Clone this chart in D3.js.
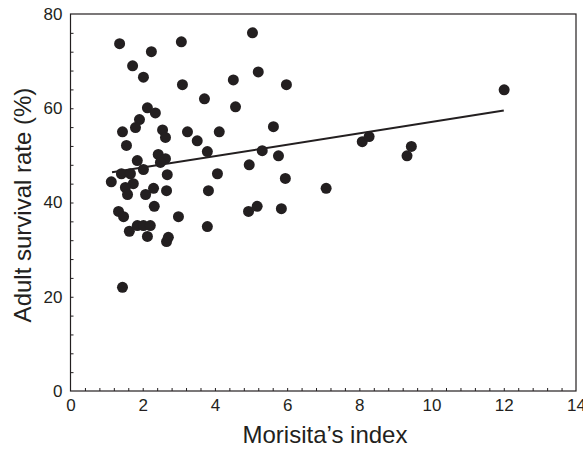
<!DOCTYPE html>
<html>
<head>
<meta charset="utf-8">
<script src="https://cdn.jsdelivr.net/npm/d3@7"></script>
<style>
  body { margin: 0; background: #fff; }
  text { font-family: "Liberation Sans", Arial, Helvetica, sans-serif; fill: #231f20; }
</style>
</head>
<body>
<div id="container"></div>
<script>
// Morisita's index (x) for each population
var morisita = [1.36, 2.24, 3.07, 5.04, 1.72, 2.02, 2.13, 2.35, 1.91, 1.80,
    1.44, 2.55, 2.63, 1.55, 3.10, 3.71, 3.24, 3.51, 3.79, 4.12,
    4.51, 4.57, 5.20, 5.98, 5.62, 5.31, 5.76, 4.95, 5.95, 4.07,
    3.82, 3.79, 2.99, 4.93, 5.17, 5.84, 7.08, 8.08, 8.27, 9.32,
    9.44, 12.01, 2.43, 2.63, 2.49, 1.85, 2.02, 2.68, 1.41, 1.66,
    1.13, 1.74, 1.52, 1.58, 2.08, 2.30, 2.66, 2.32, 1.33, 1.47,
    1.63, 1.85, 2.02, 2.21, 2.13, 2.66, 2.71, 1.44];
// adult survival rate (%) for each population
var survival = [73.7, 72.0, 74.1, 76.0, 69.0, 66.6, 60.1, 59.0, 57.6, 55.9,
    55.0, 55.4, 53.8, 52.1, 65.0, 62.0, 55.0, 53.1, 50.8, 55.0,
    66.0, 60.3, 67.7, 65.0, 56.1, 51.0, 49.9, 48.0, 45.1, 46.1,
    42.5, 34.9, 37.0, 38.1, 39.2, 38.7, 43.0, 52.9, 54.0, 49.9,
    51.9, 63.9, 50.2, 49.3, 48.5, 48.9, 47.0, 45.9, 46.1, 46.1,
    44.4, 44.0, 43.2, 41.7, 41.7, 43.0, 42.5, 39.2, 38.1, 37.0,
    33.9, 35.1, 35.1, 35.1, 32.8, 31.7, 32.6, 22.0];
// fitted regression line end points
var fitX = [1.15, 12.0];
var fitY = [46.4, 59.5];
// tick labels
var xTicks = [0, 2, 4, 6, 8, 10, 12, 14];
var yTicks = [0, 20, 40, 60, 80];

var width = 583;
var height = 449;
var margin = {top: 14, right: 7, bottom: 58, left: 70.5};

var svg = d3.select("#container")
    .append("svg")
    .attr("width", width)
    .attr("height", height);

var x = d3.scaleLinear()
    .domain([0, 14])
    .range([margin.left, width - margin.right]);

var y = d3.scaleLinear()
    .domain([0, 80])
    .range([height - margin.bottom, margin.top]);

var bottom = height - margin.bottom;

// minor ticks, inward
var xMinor = d3.range(0, 14.001, 0.4).filter(d => d > 0 && d < 14);
var yMinor = d3.range(0, 80.001, 4).filter(d => d > 0 && d < 80);

svg.append("g")
    .attr("transform", "translate(0," + bottom + ")")
    .call(d3.axisBottom(x).tickValues(xMinor).tickSize(-3).tickFormat(""))
    .call(g => g.select(".domain").remove())
    .selectAll("line").attr("stroke", "#231f20");

svg.append("g")
    .attr("transform", "translate(" + margin.left + ",0)")
    .call(d3.axisLeft(y).tickValues(yMinor).tickSize(-3).tickFormat(""))
    .call(g => g.select(".domain").remove())
    .selectAll("line").attr("stroke", "#231f20");

// tick labels
svg.append("g")
    .attr("transform", "translate(0," + bottom + ")")
    .call(d3.axisBottom(x).tickValues(xTicks).tickSize(0).tickPadding(8).tickFormat(d3.format("d")))
    .call(g => g.select(".domain").remove())
    .selectAll("text")
    .attr("font-size", "17px")
    .attr("fill", "#231f20");

svg.append("g")
    .attr("transform", "translate(" + margin.left + ",0)")
    .call(d3.axisLeft(y).tickValues(yTicks).tickSize(0).tickPadding(8).tickFormat(d3.format("d")))
    .call(g => g.select(".domain").remove())
    .selectAll("text")
    .attr("font-size", "17px")
    .attr("fill", "#231f20");

// frame
svg.append("rect")
    .attr("x", margin.left)
    .attr("y", margin.top)
    .attr("width", width - margin.right - margin.left)
    .attr("height", bottom - margin.top)
    .attr("fill", "none")
    .attr("stroke", "#231f20")
    .attr("stroke-width", 1.2);

// regression line
svg.append("line")
    .attr("x1", x(fitX[0]))
    .attr("y1", y(fitY[0]))
    .attr("x2", x(fitX[1]))
    .attr("y2", y(fitY[1]))
    .attr("stroke", "#231f20")
    .attr("stroke-width", 2);

// points
svg.append("g")
    .selectAll("circle")
    .data(morisita)
    .enter()
    .append("circle")
    .attr("cx", d => x(d))
    .attr("cy", (d, i) => y(survival[i]))
    .attr("r", 5.5)
    .attr("fill", "#231f20");

// axis titles
svg.append("text")
    .attr("x", 325)
    .attr("y", 443)
    .attr("text-anchor", "middle")
    .attr("font-size", "24px")
    .text("Morisita\u2019s index");

svg.append("text")
    .attr("transform", "translate(31,205) rotate(-90)")
    .attr("text-anchor", "middle")
    .attr("font-size", "24px")
    .text("Adult survival rate (%)");
</script>
</body>
</html>
